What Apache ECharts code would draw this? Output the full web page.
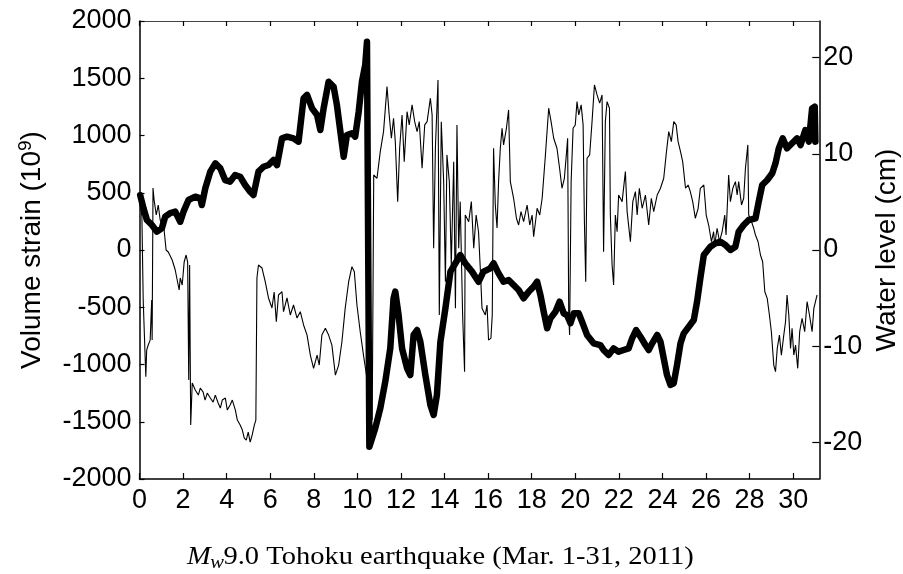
<!DOCTYPE html>
<html><head><meta charset="utf-8">
<script src="https://cdn.jsdelivr.net/npm/echarts@6/dist/echarts.min.js"></script>
<style>html,body{margin:0;padding:0;background:#fff}#c{width:903px;height:574px}</style>
</head><body><div id="c"></div>
<script>
// ---- tick labels ----
const dayTicks = [0,2,4,6,8,10,12,14,16,18,20,22,24,26,28,30];
const strainTicks = [-2000,-1500,-1000,-500,0,500,1000,1500,2000];
const levelTicks = [-20,-10,0,10,20];

// ---- thick line: volume strain (10^9), by day of March 2011 ----
const strainDays = [
0.03,0.18,0.34,0.57,0.80,1.03,1.18,1.41,1.64,1.87,
2.02,2.25,2.56,2.79,2.86,3.02,3.25,3.48,3.71,3.93,
4.16,4.39,4.62,4.85,5.08,5.23,5.46,5.69,5.92,6.15,
6.31,6.54,6.77,7.07,7.30,7.53,7.69,7.92,8.15,8.30,
8.45,8.68,8.91,9.06,9.22,9.37,9.52,9.75,9.90,10.06,
10.21,10.36,10.44,10.51,10.55,10.82,11.05,11.28,11.51,11.66,
11.74,11.89,12.05,12.28,12.43,12.58,12.74,12.89,13.12,13.35,
13.50,13.65,13.81,14.04,14.27,14.50,14.72,14.95,15.26,15.56,
15.79,16.10,16.25,16.48,16.71,16.94,17.17,17.40,17.63,17.86,
18.09,18.25,18.40,18.55,18.71,18.86,19.09,19.28,19.47,19.62,
19.78,19.93,20.16,20.31,20.54,20.84,21.15,21.30,21.53,21.76,
21.99,22.22,22.45,22.61,22.79,22.99,23.22,23.37,23.53,23.76,
23.91,24.06,24.21,24.37,24.52,24.67,24.83,24.98,25.21,25.44,
25.59,25.74,25.90,26.20,26.43,26.66,26.89,27.12,27.35,27.50,
27.73,27.96,28.27,28.42,28.58,28.81,29.04,29.19,29.34,29.52,
29.72,29.95,30.18,30.34,30.56,30.72,30.87,30.99,31.02];
const strainValues = [
480,367,262,218,160,192,291,323,335,247,
335,437,466,451,393,539,684,757,713,611,
597,655,640,568,509,480,684,727,742,786,
742,975,990,975,946,1325,1354,1237,1179,1048,
1237,1470,1426,1266,1033,815,1004,1019,990,1208,
1470,1616,1819,1805,-1718,-1557,-1383,-1150,-859,-422,
-364,-568,-859,-1033,-1092,-742,-699,-801,-1092,-1354,
-1441,-1266,-801,-509,-189,-116,-44,-116,-189,-277,
-189,-160,-116,-204,-277,-262,-306,-349,-422,-364,
-320,-277,-393,-539,-684,-597,-539,-451,-553,-568,
-640,-553,-553,-626,-742,-815,-830,-873,-917,-859,
-888,-873,-859,-771,-699,-757,-830,-873,-815,-742,
-801,-946,-1092,-1179,-1164,-1004,-815,-728,-670,-611,
-451,-247,-44,29,58,73,44,0,29,160,
218,262,277,422,568,611,670,757,888,975,
888,932,975,917,1048,946,1237,1252,946];

// ---- thin line: water level (cm), by day of March 2011 ----
const levelDays = [
0.01,0.11,0.17,0.29,0.33,0.40,0.49,0.56,0.58,0.62,
0.67,0.77,0.86,0.95,1.04,1.13,1.22,1.32,1.41,1.50,
1.64,1.73,1.82,1.87,1.96,2.05,2.14,2.21,2.26,2.30,
2.35,2.42,2.56,2.70,2.79,2.92,3.01,3.11,3.25,3.38,
3.48,3.61,3.71,3.80,3.94,4.03,4.16,4.26,4.40,4.49,
4.62,4.72,4.81,4.90,4.99,5.08,5.17,5.27,5.34,5.39,
5.46,5.62,5.77,5.92,6.08,6.18,6.28,6.38,6.54,6.61,
6.77,6.92,7.07,7.23,7.38,7.53,7.69,7.84,7.99,8.15,
8.25,8.37,8.53,8.68,8.83,8.99,9.14,9.29,9.44,9.60,
9.75,9.86,9.98,10.13,10.28,10.44,10.55,10.68,10.75,10.90,
11.05,11.20,11.36,11.46,11.56,11.66,11.74,11.85,11.94,12.05,
12.15,12.28,12.38,12.51,12.63,12.74,12.84,12.97,13.09,13.20,
13.35,13.43,13.50,13.58,13.70,13.76,13.85,13.96,14.04,14.11,
14.22,14.31,14.42,14.50,14.57,14.65,14.72,14.83,14.92,14.95,
15.11,15.23,15.34,15.45,15.56,15.64,15.72,15.87,15.95,16.02,
16.13,16.19,16.25,16.33,16.41,16.48,16.56,16.64,16.71,16.84,
16.94,17.02,17.17,17.30,17.40,17.51,17.63,17.79,17.91,18.02,
18.09,18.25,18.37,18.48,18.63,18.78,18.89,19.01,19.16,19.28,
19.39,19.50,19.59,19.65,19.70,19.74,19.81,19.90,20.00,20.08,
20.16,20.27,20.36,20.42,20.48,20.54,20.66,20.77,20.88,21.00,
21.12,21.23,21.30,21.38,21.46,21.57,21.61,21.69,21.76,21.84,
21.92,21.99,22.15,22.30,22.38,22.53,22.64,22.76,22.84,22.94,
23.07,23.22,23.37,23.49,23.60,23.76,23.91,24.06,24.17,24.29,
24.41,24.52,24.63,24.72,24.83,24.93,25.06,25.18,25.28,25.39,
25.51,25.64,25.74,25.90,26.01,26.13,26.25,26.35,26.40,26.51,
26.62,26.74,26.86,26.92,27.04,27.12,27.23,27.35,27.43,27.50,
27.63,27.73,27.81,27.92,27.96,28.09,28.19,28.27,28.39,28.50,
28.60,28.70,28.81,28.91,29.00,29.11,29.19,29.27,29.37,29.46,
29.57,29.65,29.72,29.80,29.88,29.95,30.03,30.11,30.21,30.30,
30.41,30.53,30.64,30.75,30.87,30.95,31.06,31.10];
const levelValues = [
5.20,3.47,-5.20,-13.18,-10.41,-9.88,-9.37,-5.20,-9.37,6.45,
5.20,3.64,4.68,3.12,2.60,2.08,0,-0.21,-0.31,-1.04,
-2.08,-3.12,-4.16,-2.91,-3.64,-1.25,-0.52,-1.25,-13.53,-1.56,
-18.21,-13.84,-14.57,-15.09,-14.36,-14.78,-15.61,-14.88,-15.40,-15.82,
-15.09,-15.92,-16.44,-15.61,-15.40,-16.65,-16.13,-15.61,-16.65,-17.69,
-18.21,-18.73,-19.56,-19.77,-18.94,-19.98,-19.25,-18.21,-17.69,-2.91,
-1.56,-1.87,-3.30,-4.99,-6.03,-4.37,-7.46,-4.68,-4.34,-6.42,
-4.99,-6.76,-5.72,-7.08,-6.42,-7.80,-8.85,-10.93,-12.31,-10.93,
-11.97,-8.85,-8.15,-8.85,-9.89,-13.01,-11.97,-9.54,-6.07,-3.30,
-1.74,-2.26,-5.72,-8.50,-10.93,-13.35,-14.57,-17.69,7.80,7.46,
10.23,12.31,16.99,14.05,11.62,13.70,11.27,5.03,10.58,14.05,
9.19,14.39,13.01,15.09,13.35,12.31,13.35,8.50,13.01,13.35,
15.79,14.05,0.18,10.58,17.69,-6.76,13.35,7.11,-3.30,9.89,
7.11,-1.56,9.19,-6.07,13.01,0.18,5.03,-6.76,-12.66,3.64,
2.94,5.03,0.18,3.64,1.90,-1.90,-6.07,-6.76,-5.72,-9.37,
-9.16,-6.76,10.58,4.68,2.29,7.11,10.58,12.66,10.93,12.66,
14.57,7.11,5.38,3.30,2.60,3.99,2.94,4.68,2.60,3.64,
1.38,4.34,3.64,5.38,9.89,14.75,13.35,11.62,10.58,8.50,
6.42,7.46,9.89,11.62,-6.76,-8.85,7.11,12.66,13.01,15.43,
14.05,15.09,13.01,2.94,-3.30,9.54,9.89,13.35,17.17,16.13,
15.27,16.13,-0.18,13.35,15.43,14.75,3.64,-1.56,-3.64,3.64,
1.90,5.72,5.03,8.15,3.99,0.86,5.03,6.07,3.64,6.42,
4.34,5.72,2.60,5.38,3.99,5.72,6.42,7.46,9.89,12.31,
11.27,13.35,13.01,11.27,10.23,9.19,6.42,6.76,6.07,5.03,
3.30,4.34,6.42,6.76,3.64,2.50,0.86,1.90,0.52,2.26,
0.86,1.90,3.64,1.56,7.80,5.03,6.42,7.11,5.72,7.11,
4.68,5.38,8.50,10.93,3.64,2.94,2.26,1.56,0.86,-0.52,
-1.22,-4.34,-5.03,-6.76,-8.50,-11.97,-12.66,-10.23,-8.85,-10.93,
-8.85,-7.46,-4.68,-6.76,-10.23,-8.15,-10.93,-9.89,-12.31,-8.50,
-7.11,-8.50,-5.38,-6.76,-8.50,-6.07,-5.03,-4.68];

const captionMain = '9.0 Tohoku earthquake (Mar. 1-31, 2011)';

const pair = (xs, ys) => xs.slice(0, Math.min(xs.length, ys.length)).map((x, i) => [x, ys[i]]);

const SANS = '"Liberation Sans", Arial, sans-serif';
const SERIF = '"Liberation Serif", "Times New Roman", serif';
const axisLine = {show: true, onZero: false, lineStyle: {color: '#000', width: 1.5}};
const tickStyle = {color: '#000', width: 1.2};
const plain = v => String(v);

const chart = echarts.init(document.getElementById('c'), null, {renderer: 'canvas'});
chart.setOption({
  animation: false,
  backgroundColor: '#fff',
  grid: {left: 139.5, right: 83.7, top: 21, bottom: 95, containLabel: false, outerBoundsMode: 'none'},
  xAxis: [{
    type: 'value', min: 0, max: 31.2, position: 'bottom',
    axisLine: axisLine,
    axisTick: {show: true, inside: true, length: 6, customValues: dayTicks, lineStyle: tickStyle},
    axisLabel: {customValues: dayTicks, formatter: plain, color: '#000', fontSize: 27, fontFamily: SANS, margin: 8},
    splitLine: {show: false}
  }, {
    type: 'value', min: 0, max: 31.2, position: 'top',
    axisLine: {show: true, onZero: false, lineStyle: {color: '#444', width: 1.2}},
    axisTick: {show: true, inside: true, length: 5, customValues: dayTicks, lineStyle: tickStyle},
    axisLabel: {show: false},
    splitLine: {show: false}
  }],
  yAxis: [{
    type: 'value', min: -2000, max: 2000, interval: 500, position: 'left',
    name: 'Volume strain (10{sup|9})', nameLocation: 'middle', nameRotate: 90, nameGap: 92,
    nameTextStyle: {color: '#000', fontSize: 28, fontFamily: SANS,
      rich: {sup: {fontSize: 19, fontFamily: SANS, color: '#000', verticalAlign: 'top', padding: [0, 0, 12, 0]}}},
    axisLine: axisLine,
    axisTick: {show: true, inside: true, length: 5, lineStyle: tickStyle},
    axisLabel: {formatter: plain, color: '#000', fontSize: 27, fontFamily: SANS, margin: 8},
    splitLine: {show: false}
  }, {
    type: 'value', min: -23.82, max: 23.82, position: 'right',
    name: 'Water level (cm)', nameLocation: 'middle', nameRotate: 90, nameGap: 54,
    nameTextStyle: {color: '#000', fontSize: 28, fontFamily: SANS},
    axisLine: axisLine,
    axisTick: {show: true, inside: true, length: 7, customValues: levelTicks, lineStyle: tickStyle},
    axisLabel: {customValues: levelTicks, formatter: plain, color: '#000', fontSize: 27, fontFamily: SANS, margin: 4},
    splitLine: {show: false}
  }],
  series: [{
    name: 'Water level', type: 'line', xAxisIndex: 0, yAxisIndex: 1,
    data: pair(levelDays, levelValues), showSymbol: false, symbol: 'none',
    lineStyle: {color: '#000', width: 1.1}, z: 2
  }, {
    name: 'Volume strain', type: 'line', xAxisIndex: 0, yAxisIndex: 0,
    data: pair(strainDays, strainValues), showSymbol: false, symbol: 'none',
    lineStyle: {color: '#000', width: 6.5, join: 'round', cap: 'round'}, z: 3
  }],
  graphic: [{
    type: 'group', x: 187, y: 0, scaleX: 1.14,
    children: [
      {type: 'text', x: 0, y: 557.5, style: {text: 'M', font: 'italic 25px ' + SERIF, fill: '#000', verticalAlign: 'middle'}},
      {type: 'text', x: 20.3, y: 563, style: {text: 'w', font: 'italic 18px ' + SERIF, fill: '#000', verticalAlign: 'middle'}},
      {type: 'text', x: 32, y: 557.5, style: {text: captionMain, font: '25px ' + SERIF, fill: '#000', verticalAlign: 'middle'}}
    ]
  }]
});
</script>
</body></html>
